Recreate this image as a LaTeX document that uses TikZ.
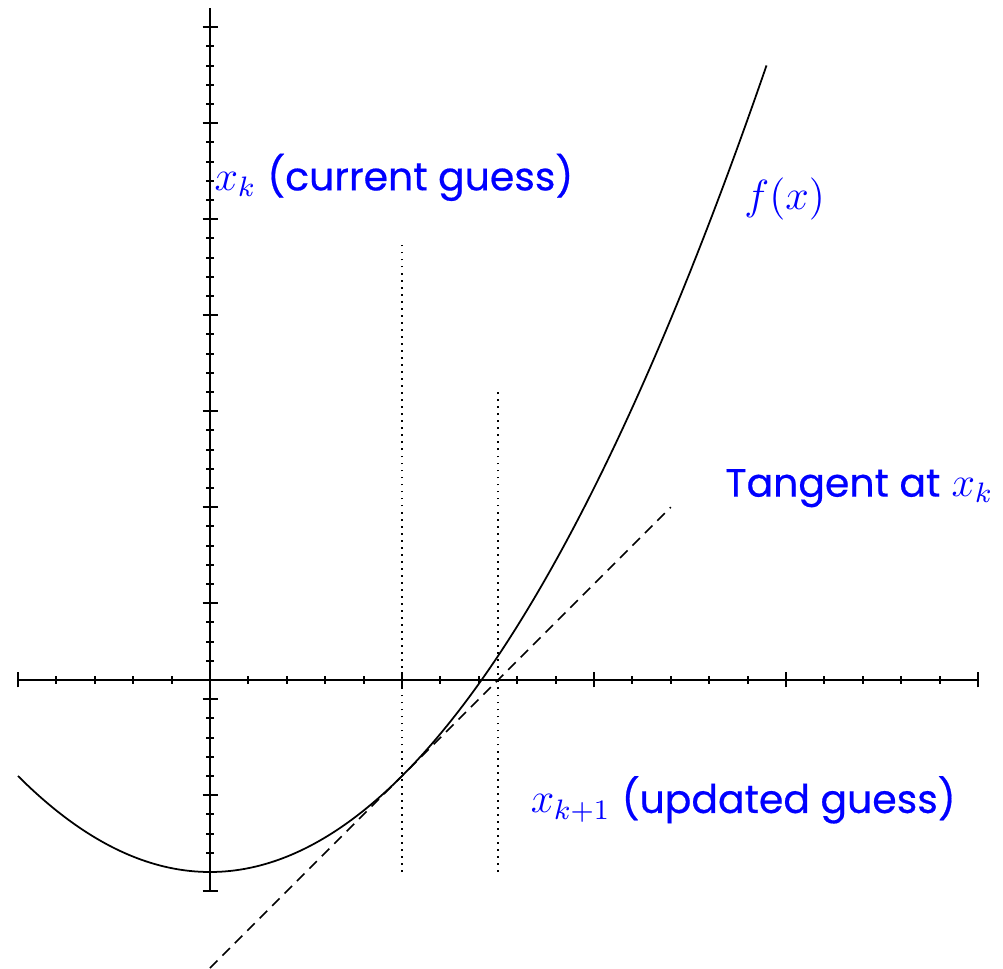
\documentclass[tikz,border=0pt]{standalone}
\usepackage{fontspec}
\setmainfont{Poppins}[FakeBold=0.5]
\newcommand{\gtxt}[1]{{\fontsize{11.2}{14}\selectfont #1}}
\begin{document}
\begin{tikzpicture}[
        x=1.92cm, y=0.96cm,
        axis/.style={line width=0.6pt}, % 坐标轴
        curve/.style={line width=0.5pt}, % 曲线
        tangentline/.style={line width=0.5pt, dash pattern=on 3pt off 2pt}, % 切线
        guide/.style={line width=0.5pt, dash pattern=on 0.5pt off 1.5pt}, % 竖直虚线
        lbl/.style={text=blue, inner sep=0pt, anchor=base west, font=\fontsize{12}{14}\selectfont} % 标注
    ]
    \useasboundingbox (-1.09375,-3) rectangle (4.1302,7.0833);

    % 绘制坐标轴
    \draw[axis] (-1,0) -- (4,0);
    \draw[axis] (0,-2.2) -- (0,7);

    % 坐标轴刻度
    \foreach \i in {0,...,25} \draw[axis] ({-1+0.2*\i},0) ++(0,-0.04cm) -- ++(0,0.08cm);
    \foreach \i in {-1,...,4} \draw[axis] (\i,0) ++(0,-0.075cm) -- ++(0,0.15cm);
    \foreach \i in {0,...,45} \draw[axis] (0,{-2.2+0.2*\i}) ++(-0.04cm,0) -- ++(0.08cm,0);
    \foreach \i in {0,...,9} \draw[axis] (0,{-2.2+\i}) ++(-0.075cm,0) -- ++(0.15cm,0);

    % 函数曲线 f(x)
    \draw[curve, domain=-1:2.9, samples=120, smooth] plot (\x,{\x*\x-2});

    % 在 x_k 处的切线
    \coordinate (T1) at (0,-3);
    \coordinate (T2) at (2.4,1.8);
    \draw[tangentline] (T1) -- (T2);

    % x_k 与 x_{k+1} 处的竖直虚线
    \coordinate (K1) at (1,-2);
    \coordinate (K2) at (1,4.55);
    \coordinate (N1) at (1.5,-2);
    \coordinate (N2) at (1.5,3.02);
    \draw[guide] (K1) -- (K2);
    \draw[guide] (N1) -- (N2);

    % 标注
    \node[lbl] (current) at (0.02,5.1) {$x_k$ \gtxt{(current guess)}};
    \node[lbl] (fx) at (2.78,4.9) {$f(x)$};
    \node[lbl] (tangent) at (2.68,1.91) {\gtxt{Tangent at} $x_k$};
    \node[lbl] (updated) at (1.667,-1.385) {$x_{k+1}$ \gtxt{(updated guess)}};
\end{tikzpicture}
\end{document}
